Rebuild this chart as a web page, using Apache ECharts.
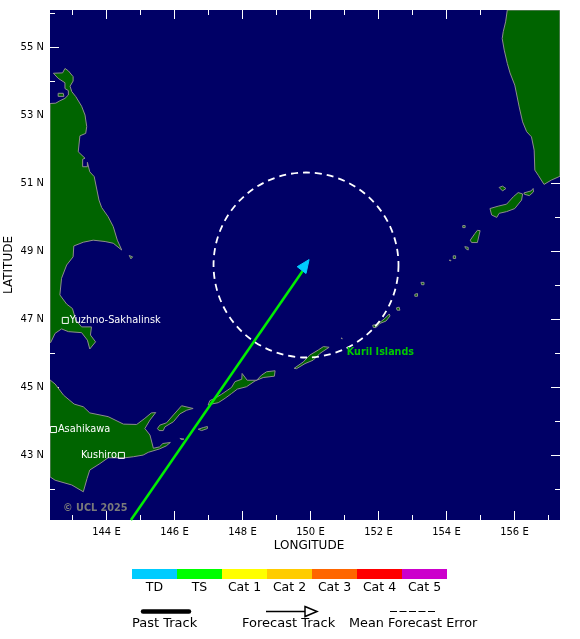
<!DOCTYPE html>
<html>
<head>
<meta charset="utf-8" />
<style>html,body{margin:0;padding:0;background:#fff}#chart{width:580px;height:639px}</style>
</head>
<body>
<div id="chart"></div>
<script src="https://cdn.jsdelivr.net/npm/echarts@6/dist/echarts.min.js"></script>
<script>
// map extent, degrees
var lonRange = [142.34, 157.34];
var latRange = [41.1, 56.1];
var lonLabelled = [144, 146, 148, 150, 152, 154, 156];
var lonMinor = [143, 145, 147, 149, 151, 153, 155, 157];
var latLabelled = [43, 45, 47, 49, 51, 53, 55];
var latMinor = [42, 44, 46, 48, 50, 52, 54, 56];

// coastlines as [lon, lat]
var sakhalin = [[142.34,53.35],[142.51,53.36],[142.63,53.43],[142.78,53.50],[142.88,53.60],[142.88,53.73],[142.78,53.79],[142.78,53.96],[142.58,54.09],[142.44,54.24],[142.71,54.25],[142.78,54.38],[142.88,54.31],[143.02,54.14],[143.02,54.01],[142.93,53.86],[142.98,53.70],[143.10,53.55],[143.27,53.27],[143.37,53.01],[143.42,52.67],[143.39,52.47],[143.22,52.40],[143.17,51.93],[143.37,51.74],[143.30,51.71],[143.30,51.49],[143.44,51.49],[143.44,51.62],[143.51,51.34],[143.64,51.20],[143.78,50.51],[143.86,50.29],[144.05,50.02],[144.20,49.73],[144.32,49.33],[144.45,49.04],[144.20,49.24],[143.96,49.29],[143.61,49.33],[143.32,49.27],[143.04,49.16],[143.02,48.84],[142.83,48.60],[142.68,48.21],[142.63,47.72],[142.83,47.45],[143.00,47.32],[143.10,46.98],[143.27,46.78],[143.56,46.78],[143.53,46.54],[143.68,46.34],[143.51,46.13],[143.44,46.39],[143.27,46.61],[142.88,46.64],[142.68,46.72],[142.49,46.59],[142.36,46.32],[142.34,46.32]];
var sakhalinSpit = [[142.58,53.65],[142.73,53.65],[142.75,53.56],[142.58,53.56]];
var moneron = [[144.67,48.88],[144.77,48.84],[144.72,48.78]];
var hokkaido = [[142.34,45.22],[142.49,45.10],[142.74,44.77],[143.05,44.51],[143.32,44.43],[143.51,44.25],[144.05,44.14],[144.50,43.92],[144.89,43.91],[145.13,44.09],[145.32,44.25],[145.45,44.26],[145.28,44.04],[145.13,43.79],[145.28,43.60],[145.38,43.21],[145.56,43.25],[145.66,43.35],[145.88,43.38],[145.76,43.28],[145.56,43.19],[145.23,43.09],[145.08,43.01],[144.79,42.96],[144.54,42.93],[144.05,42.93],[143.81,42.76],[143.51,42.57],[143.43,42.32],[143.32,41.93],[142.98,42.13],[142.49,42.27],[142.34,42.37]];
var kunashir = [[145.50,43.79],[145.57,43.89],[145.77,43.96],[145.97,44.19],[146.21,44.46],[146.55,44.38],[146.36,44.33],[146.16,44.22],[145.97,43.99],[145.72,43.84],[145.67,43.73],[145.55,43.73]];
var shikotan = [[146.70,43.77],[146.85,43.82],[146.97,43.85],[146.97,43.79],[146.80,43.73]];
var habomai = [[146.16,43.50],[146.28,43.48],[146.22,43.46]];
var iturup = [[146.99,44.48],[147.04,44.61],[147.19,44.68],[147.39,44.80],[147.68,45.00],[147.78,45.17],[147.98,45.24],[147.99,45.41],[148.14,45.21],[148.42,45.21],[148.56,45.36],[148.71,45.46],[148.96,45.49],[148.94,45.33],[148.61,45.29],[148.37,45.19],[148.12,45.02],[147.85,44.95],[147.68,44.82],[147.49,44.68],[147.29,44.55],[147.09,44.51]];
var urup = [[149.52,45.56],[149.79,45.75],[149.98,45.95],[150.23,46.10],[150.38,46.20],[150.55,46.18],[150.28,46.00],[150.08,45.80],[149.84,45.70],[149.59,45.55]];
var brat = [[150.90,46.45],[150.93,46.45],[150.93,46.42]];
var simushir = [[151.83,46.83],[151.95,46.85],[152.09,46.95],[152.19,47.03],[152.32,47.16],[152.34,47.10],[152.22,46.95],[152.04,46.88],[151.93,46.76],[151.85,46.76]];
var ketoi = [[152.53,47.34],[152.61,47.36],[152.63,47.27],[152.55,47.27]];
var ushishir = [[153.07,47.74],[153.15,47.76],[153.15,47.68],[153.07,47.68]];
var rasshua = [[153.25,48.09],[153.34,48.09],[153.34,48.02],[153.27,48.02]];
var matua = [[154.08,48.74],[154.13,48.74],[154.13,48.72]];
var raikoke = [[154.20,48.87],[154.27,48.87],[154.27,48.79],[154.20,48.79]];
var shiashkotan = [[154.54,49.14],[154.64,49.12],[154.64,49.04],[154.57,49.08]];
var ekarma = [[154.48,49.76],[154.55,49.76],[154.55,49.70],[154.48,49.70]];
var onekotan = [[154.70,49.33],[154.84,49.53],[154.91,49.62],[154.99,49.61],[154.91,49.26],[154.74,49.26]];
var paramushir = [[155.28,50.26],[155.52,50.33],[155.77,50.39],[155.97,50.61],[156.11,50.73],[156.24,50.69],[156.21,50.51],[156.01,50.26],[155.77,50.17],[155.55,50.12],[155.48,50.00],[155.33,50.07]];
var shumshu = [[156.28,50.72],[156.49,50.78],[156.55,50.85],[156.56,50.75],[156.44,50.64],[156.29,50.68]];
var atlasov = [[155.55,50.88],[155.65,50.92],[155.75,50.85],[155.65,50.78]];
var kamchatka = [[155.79,56.1],[155.74,55.75],[155.67,55.46],[155.64,55.26],[155.70,54.92],[155.79,54.53],[155.87,54.25],[156.01,53.89],[156.14,53.25],[156.24,52.81],[156.36,52.52],[156.50,52.37],[156.58,51.98],[156.60,51.39],[156.70,51.24],[156.87,50.97],[157.09,51.10],[157.34,51.21],[157.34,56.1]];
var landShapes = [sakhalin, sakhalinSpit, moneron, hokkaido, kunashir, shikotan, habomai, iturup, urup, brat, simushir, ketoi, ushishir, rasshua, matua, raikoke, shiashkotan, ekarma, onekotan, paramushir, shumshu, atlasov, kamchatka];

// storm
var forecastTrack = [[144.72,41.1],[149.78,48.44]];
var arrowHead = [[149.96,48.76],[149.61,48.55],[149.87,48.35]];
var errorCenter = [149.87,48.6];
var errorRadius = 2.72;

// places
var cityNames = ['Yuzhno-Sakhalinsk','Asahikawa','Kushiro'];
var cityLon = [142.79,142.44,144.44];
var cityLat = [46.97,43.76,43.0];
var labelPos = ['right','right','left'];

// intensity scale
var scaleNames = ['TD','TS','Cat 1','Cat 2','Cat 3','Cat 4','Cat 5'];
var scaleColors = ['#00ccff','#00ff00','#ffff00','#ffcc00','#ff6600','#ff0000','#cc00cc'];

var FONT = 'DejaVu Sans';

function xAxis(pos, minorAxis){
    return {
        type:'value', gridIndex:0, position:pos, min:lonRange[0], max:lonRange[1],
        name: (pos=='bottom' && !minorAxis) ? 'LONGITUDE' : '',
        nameLocation:'middle', nameGap:20, nameMoveOverlap:false,
        nameTextStyle:{color:'#000',fontFamily:FONT,fontSize:12,padding:[0,0,0,8]},
        axisLine:{show:false}, splitLine:{show:false},
        axisTick:{show:true,inside:true,length:minorAxis?5:9,customValues:minorAxis?lonMinor:lonLabelled,lineStyle:{color:'#fff',width:1}},
        axisLabel:{show:pos=='bottom' && !minorAxis,customValues:lonLabelled,color:'#000',fontFamily:FONT,fontSize:10,margin:7,formatter:function(v){return v+' E'}}
    };
}
function yAxis(pos, minorAxis){
    return {
        type:'value', gridIndex:0, position:pos, min:latRange[0], max:latRange[1],
        name: (pos=='left' && !minorAxis) ? 'LATITUDE' : '',
        nameLocation:'middle', nameGap:35, nameMoveOverlap:false,
        nameTextStyle:{color:'#000',fontFamily:FONT,fontSize:12},
        axisLine:{show:false}, splitLine:{show:false},
        axisTick:{show:true,inside:true,length:minorAxis?5:9,customValues:minorAxis?latMinor:latLabelled,lineStyle:{color:'#fff',width:1}},
        axisLabel:{show:pos=='left' && !minorAxis,customValues:latLabelled,color:'#000',fontFamily:FONT,fontSize:10,margin:6,formatter:function(v){return v+' N'}}
    };
}

var myChart = echarts.init(document.getElementById('chart'), null, {renderer:'canvas'});
myChart.setOption({
    animation:false,
    backgroundColor:'#fff',
    grid:[
        {left:50,top:10,width:510,height:510,show:true,backgroundColor:'#000066',borderWidth:0,outerBoundsMode:'none'},
        {left:132,top:569,width:315,height:10,outerBoundsMode:'none'}
    ],
    xAxis:[
        xAxis('bottom',false), xAxis('bottom',true), xAxis('top',false), xAxis('top',true),
        {type:'category',gridIndex:1,data:scaleNames,axisLine:{show:false},axisTick:{show:false},
         axisLabel:{color:'#000',fontFamily:FONT,fontSize:12.5,margin:2,interval:0}}
    ],
    yAxis:[
        yAxis('left',false), yAxis('left',true), yAxis('right',false), yAxis('right',true),
        {type:'value',gridIndex:1,min:0,max:1,show:false}
    ],
    series:[
        {
            type:'custom', xAxisIndex:0, yAxisIndex:0, z:2, clip:true, silent:true,
            data:landShapes.map(function(s,i){return [i]}),
            renderItem:function(params,api){
                var pts = landShapes[params.dataIndex].map(function(p){return api.coord(p)});
                return {type:'polygon',shape:{points:pts},style:{fill:'#006400',stroke:'#8c8c8c',lineWidth:1}};
            }
        },
        {
            type:'line', xAxisIndex:0, yAxisIndex:0, z:3, data:forecastTrack, showSymbol:false, silent:true,
            lineStyle:{color:'#00ee00',width:2.5}
        },
        {
            type:'custom', xAxisIndex:0, yAxisIndex:0, z:4, silent:true, data:[[0]],
            renderItem:function(params,api){
                var pts = arrowHead.map(function(p){return api.coord(p)});
                return {type:'polygon',shape:{points:pts},style:{fill:'#00ccff',stroke:'#00ccff',lineWidth:1}};
            }
        },
        {
            type:'custom', xAxisIndex:0, yAxisIndex:0, z:5, silent:true, data:[errorCenter],
            renderItem:function(params,api){
                var c = api.coord(errorCenter);
                var r = api.size([errorRadius,0])[0];
                return {type:'circle',shape:{cx:c[0],cy:c[1],r:r},style:{fill:null,stroke:'#fff',lineWidth:1.8,lineDash:[7,5]}};
            }
        },
        {
            type:'scatter', xAxisIndex:0, yAxisIndex:0, z:6, silent:true, symbol:'rect', symbolSize:6,
            itemStyle:{color:'rgba(0,0,0,0)',borderColor:'#fff',borderWidth:1,opacity:1},
            data:cityNames.map(function(n,i){
                return {name:n,value:[cityLon[i],cityLat[i]],
                    label:{show:true,position:labelPos[i],distance:1,formatter:n,color:'#fff',fontFamily:FONT,fontSize:9.8,opacity:1}};
            })
        },
        {
            type:'scatter', xAxisIndex:0, yAxisIndex:0, z:6, silent:true, symbolSize:0,
            itemStyle:{opacity:1},
            data:[{value:[151.07,46.04],label:{show:true,position:'right',distance:0,formatter:'Kuril Islands',color:'#00c800',fontFamily:FONT,fontSize:9.6,fontWeight:'bold',opacity:1}}]
        },
        {
            type:'bar', xAxisIndex:4, yAxisIndex:4, barWidth:'100%', silent:true,
            data:scaleColors.map(function(c){return {value:1,itemStyle:{color:c}}})
        }
    ],
    graphic:[
        {type:'text',left:63,top:503,z:10,silent:true,style:{text:'© UCL 2025',fill:'#7a7a7a',font:'bold 9.7px "DejaVu Sans"'}},
        {type:'line',silent:true,shape:{x1:143,y1:611.5,x2:189,y2:611.5},style:{stroke:'#000',lineWidth:4.5,lineCap:'round'}},
        {type:'line',silent:true,shape:{x1:266,y1:611.5,x2:306,y2:611.5},style:{stroke:'#000',lineWidth:1.5}},
        {type:'polygon',silent:true,shape:{points:[[305,606.5],[317,611.5],[305,616.5]]},style:{fill:'#fff',stroke:'#000',lineWidth:1.5}},
        {type:'line',silent:true,shape:{x1:390,y1:611.5,x2:436,y2:611.5},style:{stroke:'#000',lineWidth:1,lineDash:[7,2.5]}},
        {type:'text',left:132,top:617,silent:true,style:{text:'Past Track',fill:'#000',font:'13px "DejaVu Sans"'}},
        {type:'text',left:242,top:617,silent:true,style:{text:'Forecast Track',fill:'#000',font:'13px "DejaVu Sans"'}},
        {type:'text',left:349,top:617,silent:true,style:{text:'Mean Forecast Error',fill:'#000',font:'12.8px "DejaVu Sans"'}}
    ]
});
</script>
</body>
</html>
